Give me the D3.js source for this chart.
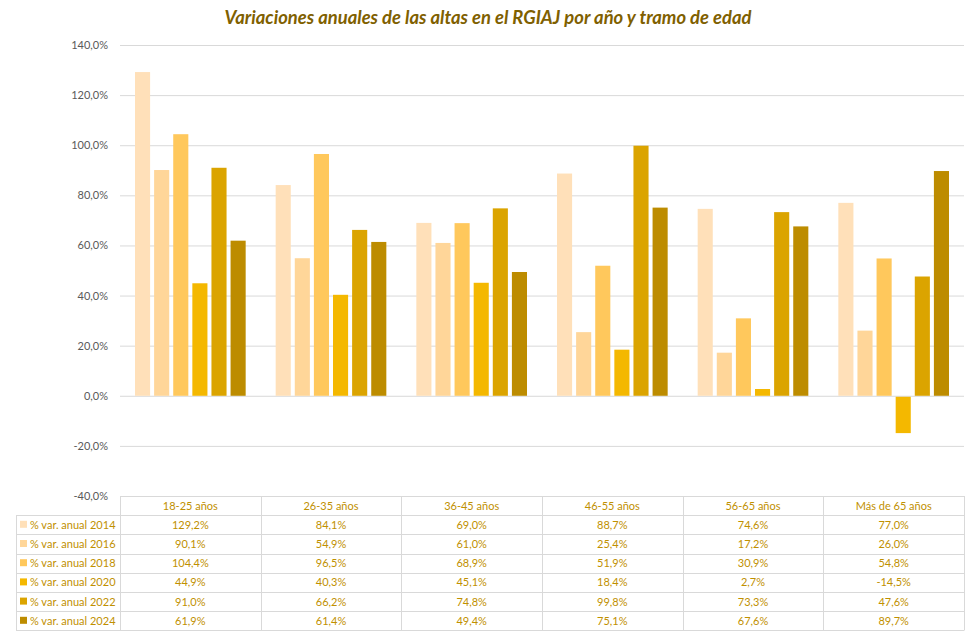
<!DOCTYPE html>
<html><head><meta charset="utf-8">
<script src="https://cdn.jsdelivr.net/npm/d3@7"></script>
<style>body{margin:0;background:#fff}svg{display:block}</style>
</head><body>
<svg id="c" width="967" height="636"></svg>
<script>
const categories = ["18-25 años","26-35 años","36-45 años","46-55 años","56-65 años","Más de 65 años"];
const seriesNames = ["% var. anual 2014","% var. anual 2016","% var. anual 2018","% var. anual 2020","% var. anual 2022","% var. anual 2024"];
const v2014 = [129.2, 84.1, 69.0, 88.7, 74.6, 77.0];
const v2016 = [90.1, 54.9, 61.0, 25.4, 17.2, 26.0];
const v2018 = [104.4, 96.5, 68.9, 51.9, 30.9, 54.8];
const v2020 = [44.9, 40.3, 45.1, 18.4, 2.7, -14.5];
const v2022 = [91.0, 66.2, 74.8, 99.8, 73.3, 47.6];
const v2024 = [61.9, 61.4, 49.4, 75.1, 67.6, 89.7];
const yTicks = [-40,-20,0,20,40,60,80,100,120,140];
const colors = ["#FFE0B9","#FFD699","#FFC85C","#F4B800","#DBA400","#BD8C00"];
const title = "Variaciones anuales de las altas en el RGIAJ por año y tramo de edad";

(function () {
const values = [v2014, v2016, v2018, v2020, v2022, v2024];
const fmt = v => d3.format(".1f")(v).replace(".", ",").replace("\u2212", "-") + "%";
const font = "Lato, 'Open Sans', sans-serif";

const svg = d3.select("#c");
const pLeft = 120, pRight = 964, pTop = 45, pBottom = 496;

const y = d3.scaleLinear().domain([-40, 140]).range([pBottom, pTop]);
const x0 = d3.scaleBand().domain(categories).range([pLeft, pRight]).padding(0);
const pad = 15;
const x1 = d3.scaleBand().domain(seriesNames).range([pad, x0.bandwidth() - pad]).paddingInner(0.21).paddingOuter(0);

svg.append("text").attr("x", 488).attr("y", 24).attr("text-anchor", "middle")
  .attr("font-family", font).attr("font-size", 18.4).attr("font-weight", "bold").attr("font-style", "italic")
  .attr("fill", "#7F6000").text(title);

svg.append("g").selectAll("line").data(yTicks.filter(t => t > -40)).join("line")
  .attr("x1", pLeft).attr("x2", pRight).attr("y1", d => y(d) + 0.5).attr("y2", d => y(d) + 0.5)
  .attr("stroke", "#D9D9D9").attr("stroke-width", 1);

const yAxis = d3.axisLeft(y).tickValues(yTicks).tickFormat(fmt).tickSize(0).tickPadding(12);
const ga = svg.append("g").attr("transform", `translate(${pLeft},0)`).call(yAxis);
ga.select(".domain").remove();
ga.selectAll("text").attr("font-family", font).attr("font-size", 11).attr("fill", "#595959");

const g = svg.append("g");
seriesNames.forEach((s, si) => {
  g.append("g").selectAll("rect").data(values[si]).join("rect")
    .attr("x", (d, i) => x0(categories[i]) + x1(s))
    .attr("width", x1.bandwidth())
    .attr("y", d => d >= 0 ? y(d) : y(0) + 1)
    .attr("height", d => Math.abs(y(d) - y(0)))
    .attr("fill", colors[si]);
});

const rowH = 19.2;
const tableTop = pBottom;
const legLeft = 16;
const tg = svg.append("g");
const nRows = seriesNames.length;
const tableBottom = tableTop + rowH * (nRows + 1);
const lc = "#D9D9D9";
tg.append("line").attr("x1", pLeft).attr("x2", pRight).attr("y1", tableTop + 0.5).attr("y2", tableTop + 0.5).attr("stroke", lc);
for (let r = 1; r <= nRows + 1; r++) {
  const yy = Math.round(tableTop + r * rowH) + 0.5;
  tg.append("line").attr("x1", legLeft).attr("x2", pRight).attr("y1", yy).attr("y2", yy).attr("stroke", lc);
}
tg.append("line").attr("x1", legLeft + 0.5).attr("x2", legLeft + 0.5).attr("y1", tableTop + rowH).attr("y2", Math.round(tableBottom) + 0.5).attr("stroke", lc);
categories.forEach((c) => {
  const xx = Math.round(x0(c)) + 0.5;
  tg.append("line").attr("x1", xx).attr("x2", xx).attr("y1", tableTop).attr("y2", Math.round(tableBottom) + 0.5).attr("stroke", lc);
});
tg.append("line").attr("x1", pRight + 0.5).attr("x2", pRight + 0.5).attr("y1", tableTop).attr("y2", Math.round(tableBottom) + 0.5).attr("stroke", lc);

const txtCol = "#BF9000";
tg.selectAll("text.h").data(categories).join("text").attr("class", "h")
  .attr("x", d => x0(d) + x0.bandwidth() / 2).attr("y", tableTop + rowH / 2 + 4)
  .attr("text-anchor", "middle").attr("font-family", font).attr("font-size", 11).attr("fill", txtCol).text(d => d);
seriesNames.forEach((s, si) => {
  const cy = tableTop + (si + 1) * rowH + rowH / 2;
  tg.append("rect").attr("x", 20).attr("y", cy - 4).attr("width", 7).attr("height", 7).attr("fill", colors[si]);
  tg.append("text").attr("x", 30).attr("y", cy + 4).attr("font-family", font).attr("font-size", 11)
    .attr("fill", txtCol).text(s);
  tg.append("g").selectAll("text").data(values[si]).join("text")
    .attr("x", (d, i) => x0(categories[i]) + x0.bandwidth() / 2).attr("y", cy + 4)
    .attr("text-anchor", "middle").attr("font-family", font).attr("font-size", 11).attr("fill", txtCol)
    .text(d => fmt(d));
});
})();
</script>
</body></html>
